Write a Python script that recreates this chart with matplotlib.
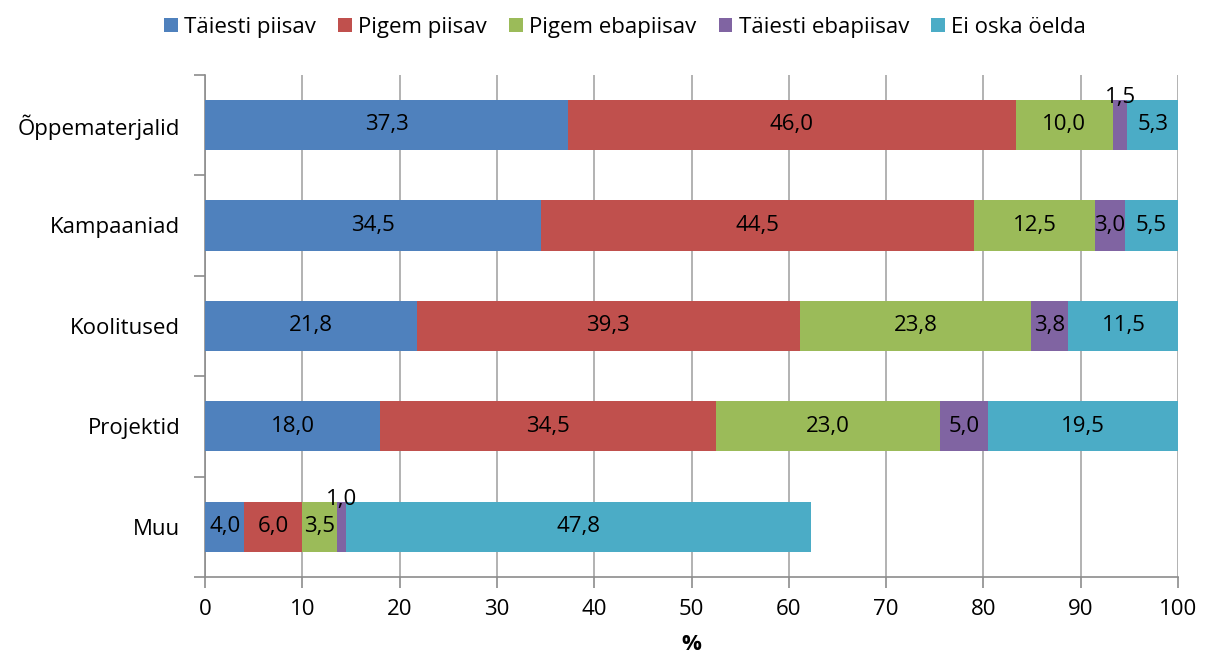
import numpy as np
import matplotlib.pyplot as plt
from matplotlib.ticker import FixedLocator

plt.rcParams['font.family'] = ['Open Sans', 'DejaVu Sans']

kategooriad = ["Õppematerjalid", "Kampaaniad", "Koolitused", "Projektid", "Muu"]
seeriad = ["Täiesti piisav", "Pigem piisav", "Pigem ebapiisav", "Täiesti ebapiisav", "Ei oska öelda"]
taiesti_piisav = [37.3, 34.5, 21.8, 18.0, 4.0]
pigem_piisav = [46.0, 44.5, 39.3, 34.5, 6.0]
pigem_ebapiisav = [10.0, 12.5, 23.8, 23.0, 3.5]
taiesti_ebapiisav = [1.5, 3.0, 3.8, 5.0, 1.0]
ei_oska = [5.3, 5.5, 11.5, 19.5, 47.8]
varvid = ["#4F81BD", "#C0504D", "#9BBB59", "#8064A2", "#4BACC6"]

andmed = [taiesti_piisav, pigem_piisav, pigem_ebapiisav, taiesti_ebapiisav, ei_oska]

fig = plt.figure(figsize=(12.07, 6.61), dpi=100)
ax = fig.add_axes([0.170, 0.127, 0.806, 0.760])

fs = 16
y = np.arange(len(kategooriad))[::-1]
korgus = 0.5
vasak = np.zeros(len(kategooriad))
for nimi, vals, c in zip(seeriad, andmed, varvid):
    vals = np.array(vals)
    ax.barh(y, vals, left=vasak, height=korgus, color=c, label=nimi, zorder=3)
    for yi, l, v in zip(y, vasak, vals):
        s = f"{v:.1f}".replace(".", ",")
        if v < 2:
            ax.text(l + v / 2, yi + korgus / 2 + 0.02, s, ha="center", va="center",
                    fontsize=fs, zorder=4)
        else:
            ax.text(l + v / 2, yi, s, ha="center", va="center", fontsize=fs, zorder=4)
    vasak = vasak + vals

ax.set_xlim(0, 100)
ax.set_ylim(-0.5, len(kategooriad) - 0.5)
ax.set_xticks(np.arange(0, 101, 10))
ax.set_yticks(y)
ax.set_yticklabels(kategooriad, fontsize=fs)
ax.yaxis.set_minor_locator(FixedLocator(np.arange(-0.5, len(kategooriad), 1)))
ax.tick_params(axis="y", which="major", length=0, pad=18)
ax.tick_params(axis="y", which="minor", length=8, color="#8c8c8c", width=1.2)
ax.tick_params(axis="x", labelsize=fs, length=8, color="#8c8c8c", width=1.2, pad=8)
ax.grid(axis="x", color="#a6a6a6", linewidth=1.2, zorder=0)
for s in ["top", "right"]:
    ax.spines[s].set_visible(False)
for s in ["left", "bottom"]:
    ax.spines[s].set_color("#8c8c8c")
    ax.spines[s].set_linewidth(1.2)
ax.set_xlabel("%", fontsize=fs, fontweight="bold", labelpad=10)

fig.legend(loc="upper center", bbox_to_anchor=(0.518, 1.005), ncol=5, frameon=False,
           fontsize=fs, handlelength=0.6, handleheight=0.6, handletextpad=0.3,
           columnspacing=1.0)

fig.savefig("out.png", dpi=100)
